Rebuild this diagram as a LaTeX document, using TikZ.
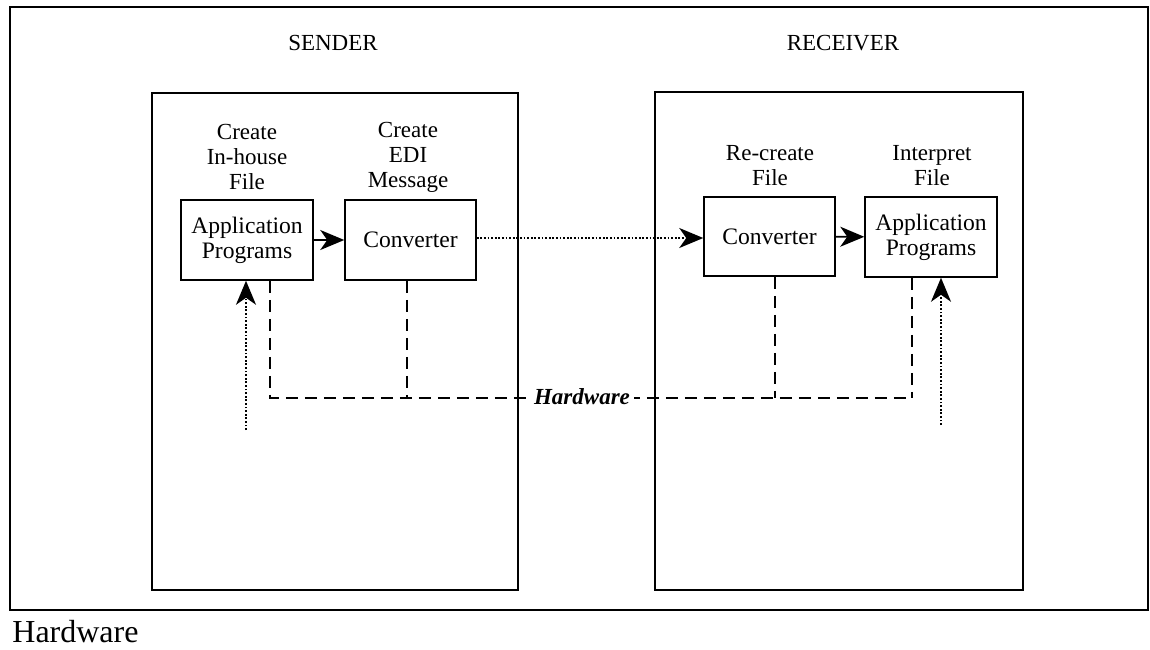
\documentclass[tikz,border=0pt]{standalone}
\usepackage{fontspec}
\setmainfont{Liberation Serif}
\usetikzlibrary{arrows.meta}
\begin{document}
\begin{tikzpicture}[x=0.5pt,y=-0.5pt,
  box/.style={draw,line width=0.75pt,minimum width=66pt,minimum height=40pt,
    align=center,font=\fontsize{11.8}{12.5}\selectfont,inner sep=0pt},
  lbl/.style={align=center,font=\fontsize{11.5}{12.5}\selectfont,inner sep=0pt},
  panel/.style={draw,line width=0.75pt},
  tip/.style={-{Stealth[length=12pt,width=10pt,inset=3.5pt]}},
  flow/.style={line width=0.9pt,tip},
  msg/.style={line width=0.8pt,dash pattern=on 0.9pt off 0.9pt,tip},
  hw/.style={line width=0.75pt,dash pattern=on 6pt off 3.5pt}]
\useasboundingbox (0,0) rectangle (1150,649);
% outer frame and the two sides
\draw[line width=1.2pt] (10,7) rectangle (1148,610);
\draw[panel] (152,93) rectangle (518,590);
\draw[panel] (655,92) rectangle (1023,590);
\node[lbl] (tsend) at (333,43) {SENDER};
\node[lbl] (trecv) at (843,43) {RECEIVER};
% sender boxes
\node[box] (sapp) at (247,240) {Application\\Programs};
\node[box,minimum width=65.5pt] (sconv) at (410.5,240) {Converter};
\node[lbl] (lsapp) at (247,157) {Create\\In-house\\File};
\node[lbl] (lsconv) at (408,157) {Create\\EDI\\Message};
% receiver boxes
\node[box,minimum width=65.5pt,minimum height=39.5pt] (rconv) at (769.5,236.5) {Converter};
\node[box] (rapp) at (931,237) {Application\\Programs};
\node[lbl] (lrconv) at (770,165.5) {Re-create\\File};
\node[lbl] (lrapp) at (932,165.5) {Interpret\\File};
% flows
\draw[flow] (sapp) -- (sconv);
\draw[flow] (rconv) -- (rapp);
\draw[msg] (sconv.east |- 0,238) -- (rconv.west |- 0,238);
% hardware links
\coordinate (h1) at (270,398);
\coordinate (h2) at (407,398);
\coordinate (h3) at (775,398);
\coordinate (h4) at (912,398);
\draw[hw] (sapp.south -| h1) -- (h1) -- (h4);
\draw[hw] (sconv.south -| h2) -- (h2);
\draw[hw] (rconv.south -| h3) -- (h3);
\draw[hw] (rapp.south -| h4) -- (h4);
\node[fill=white,inner sep=2pt,font=\fontsize{11.5}{12.5}\selectfont\bfseries\itshape] (hwl) at (582,397) {Hardware};
% inputs from below
\coordinate (in1) at (246,430);
\coordinate (in2) at (941,425);
\draw[msg] (in1) -- (in1 |- sapp.south);
\draw[msg] (in2) -- (in2 |- rapp.south);
% caption
\node[anchor=west,inner sep=0pt,font=\fontsize{16}{18}\selectfont] (cap) at (12,632) {Hardware};
\end{tikzpicture}
\end{document}
